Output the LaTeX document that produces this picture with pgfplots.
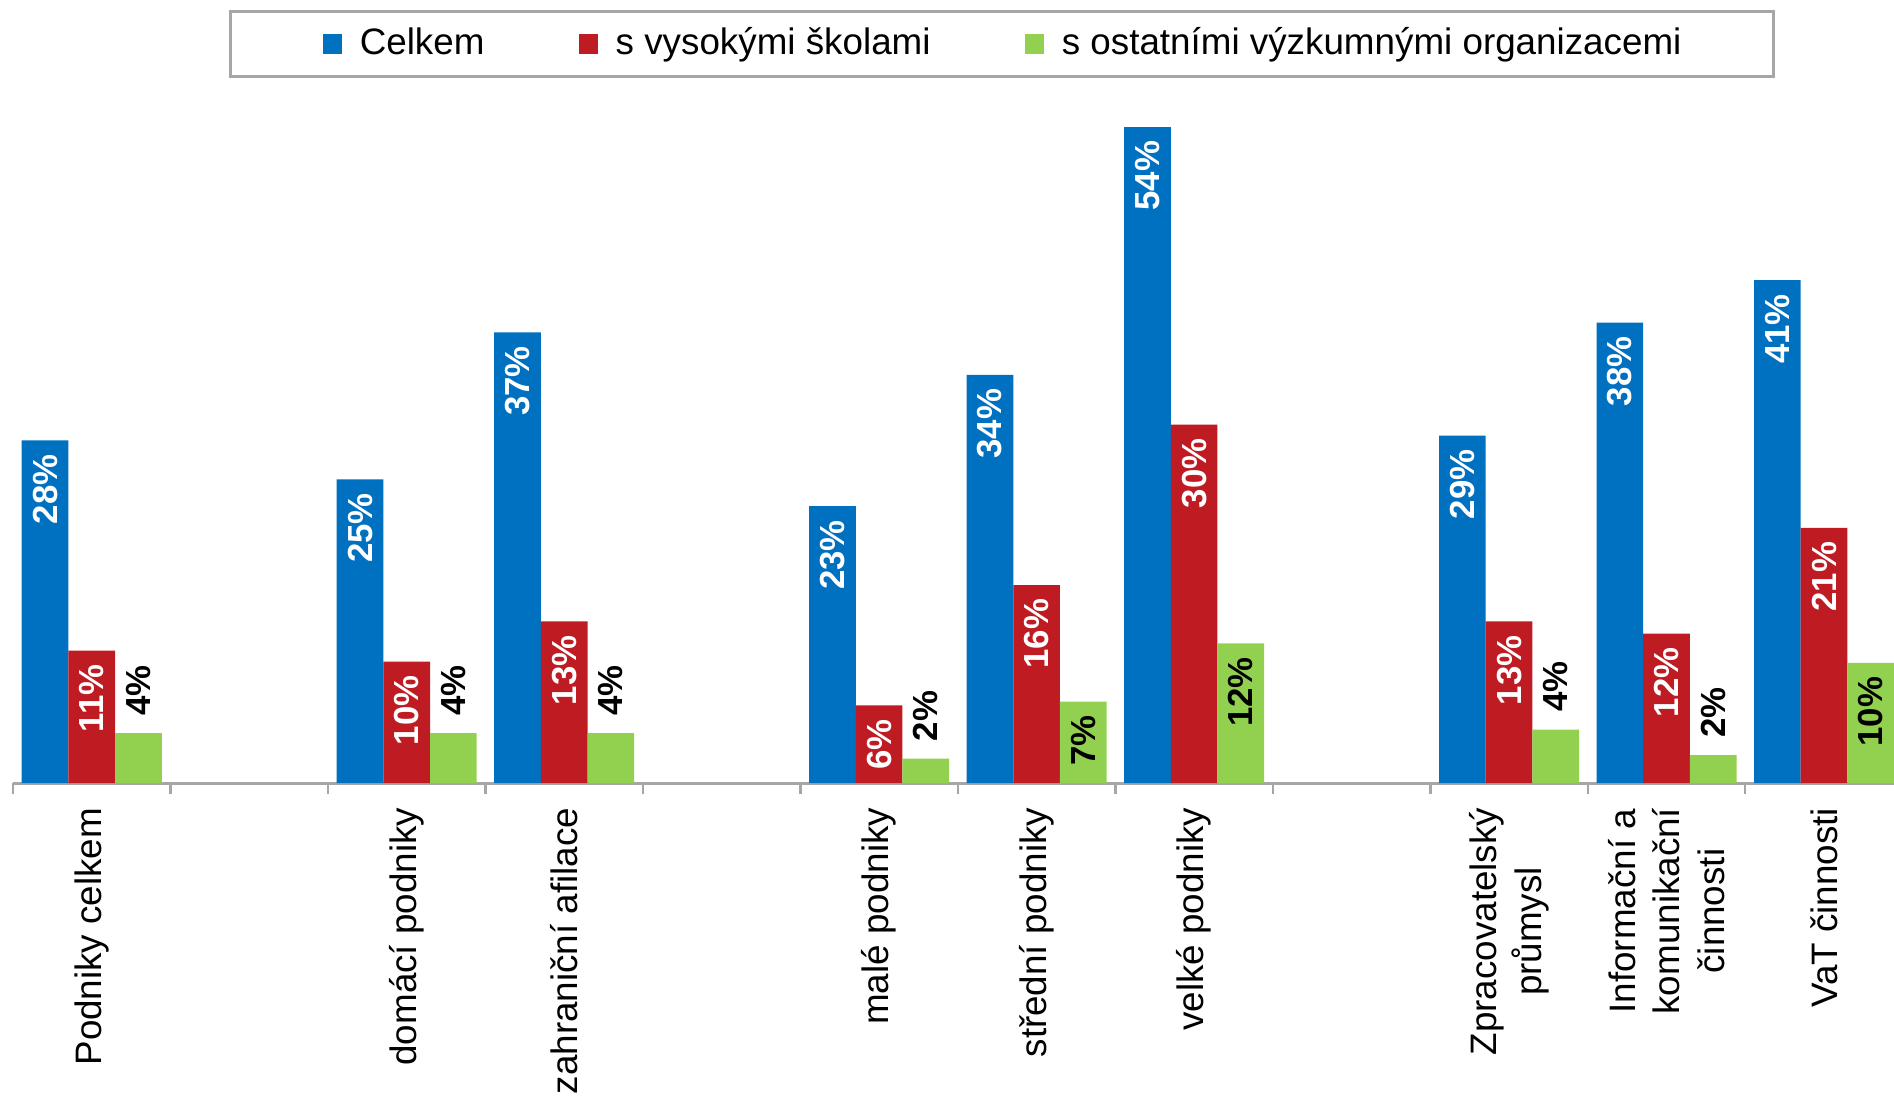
\documentclass[border=0pt]{standalone}
\usepackage{pgfplots}
\pgfplotsset{compat=1.18}
\usepackage{fontspec}
\setmainfont{Liberation Sans}
\definecolor{cBlue}{HTML}{0070C0}
\definecolor{cRed}{HTML}{BE1B23}
\definecolor{cGreen}{HTML}{92D050}
\definecolor{cAxis}{HTML}{A6A6A6}
\tikzset{
  inlab/.style={rotate=90, anchor=east, inner xsep=3.3pt, inner ysep=0pt, font=\fontsize{8.7}{10}\selectfont\bfseries},
  outlab/.style={rotate=90, anchor=west, inner xsep=4.2pt, inner ysep=0pt, font=\fontsize{8.7}{10}\selectfont\bfseries, text=black},
}
\begin{document}
\begin{tikzpicture}
\begin{axis}[
  name=ax,
  scale only axis,
  width=470.25pt, height=164pt,
  xmin=-0.5, xmax=11.4444, ymin=0, ymax=54,
  axis x line=bottom, axis y line=none,
  x axis line style={draw=cAxis, line width=0.75pt, -},
  xtick={0,...,11},
  xticklabels={{Podniky celkem},{},{domácí podniky},{zahraniční afilace},{},{malé podniky},{střední podniky},{velké podniky},{},{Zpracovatelský\\průmysl},{Informační a\\komunikační\\činnosti},{VaT činnosti}},
  major tick length=0pt,
  minor xtick={-0.5,0.5,...,10.5},
  minor tick length=2.75pt,
  tick align=outside,
  tick style={draw=cAxis, line width=0.6pt},
  xticklabel style={rotate=90, anchor=east, align=center, font=\fontsize{9.2}{11.2}\selectfont, inner sep=0pt},
  xticklabel shift=6pt,
  ybar=0pt, bar width=11.67pt,
  clip=false,
  legend image code/.code={\path[#1] (0pt,-2.4pt) rectangle (4.8pt,2.4pt);},
  legend columns=3,
  legend style={at={(0.5258,1.1265)}, anchor=center, draw=cAxis, line width=0.75pt, fill=white,
    font=\fontsize{9.2}{11}\selectfont, inner xsep=23pt, inner ysep=3.9pt,
    nodes={inner sep=0pt},
    /tikz/every odd column/.append style={column sep=4.5pt},
    /tikz/every even column/.append style={column sep=23.5pt}},
]
\addplot[fill=cBlue, draw=none, bar shift=-11.67pt, point meta=explicit symbolic, nodes near coords,
  nodes near coords style={inlab, text=white}]
  coordinates {(0,28.2)[28\%] (2,25.0)[25\%] (3,37.1)[37\%] (5,22.8)[23\%] (6,33.6)[34\%] (7,54.0)[54\%] (9,28.6)[29\%] (10,37.9)[38\%] (11,41.4)[41\%]};
\addlegendentry{Celkem}
\addplot[fill=cRed, draw=none, bar shift=0pt, point meta=explicit symbolic, nodes near coords,
  nodes near coords style={inlab, text=white}]
  coordinates {(0,10.9)[11\%] (2,10.0)[10\%] (3,13.3)[13\%] (5,6.4)[6\%] (6,16.3)[16\%] (7,29.5)[30\%] (9,13.3)[13\%] (10,12.3)[12\%] (11,21.0)[21\%]};
\addlegendentry{s vysokými školami}
\addplot[fill=cGreen, draw=none, bar shift=11.67pt, point meta=explicit symbolic, nodes near coords,
  nodes near coords style={inlab, text=black}]
  coordinates {(6,6.7)[7\%] (7,11.5)[12\%] (11,9.9)[10\%]};
\addlegendentry{s ostatními výzkumnými organizacemi}
\addplot[fill=cGreen, draw=none, bar shift=11.67pt, point meta=explicit symbolic, nodes near coords,
  nodes near coords style={outlab}, forget plot]
  coordinates {(0,4.1)[4\%] (2,4.1)[4\%] (3,4.1)[4\%] (5,2.0)[2\%] (9,4.4)[4\%] (10,2.3)[2\%]};
\end{axis}
\pgfresetboundingbox
\path[use as bounding box] ([xshift=-3.25pt,yshift=-78.25pt]ax.south west) rectangle ++(473.5pt,274pt);
\end{tikzpicture}
\end{document}
